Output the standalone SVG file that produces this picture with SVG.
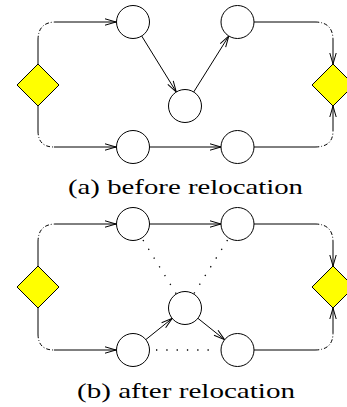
<svg xmlns="http://www.w3.org/2000/svg" width="347" height="407" viewBox="0 0 347 407">
<style>
.n{fill:#fff;stroke:#000;stroke-width:1}
.d{fill:#ffff00;stroke:#000;stroke-width:1}
.s{fill:none;stroke:#000;stroke-width:1}
.dd{fill:none;stroke:#000;stroke-width:1;stroke-dasharray:4 2 1 2}
.dt{fill:none;stroke:#000;stroke-width:1.3;stroke-dasharray:1.3 9}
.a{marker-end:url(#ar)}
text{font-family:"Liberation Serif","DejaVu Serif",serif;font-size:22px;fill:#000}
</style>
<defs>
<marker id="ar" markerUnits="userSpaceOnUse" markerWidth="14" markerHeight="10" viewBox="-12 -5 13 10" refX="0" refY="0" orient="auto">
<path d="M-11,-3.2 L0,0 L-11,3.2" fill="none" stroke="#000" stroke-width="1"/>
</marker>
</defs>
<g id="connectors">
<!-- (a) -->
<path class="s" d="M38,64 V40"/>
<path class="dd" d="M38,40 Q38,22 56,22"/>
<path class="s a" d="M56,22 H116"/>
<path class="s" d="M38,106 V131"/>
<path class="dd" d="M38,131 Q38,147 54,147"/>
<path class="s a" d="M54,147 H116"/>
<path class="s" d="M254,22 H315"/>
<path class="dd" d="M315,22 Q333,22 333,40"/>
<path class="s a" d="M333,40 V64"/>
<path class="s" d="M254,147 H315"/>
<path class="dd" d="M315,147 Q333,147 333,131"/>
<path class="s a" d="M333,131 V106"/>
<path class="s a" d="M141.7,36 L176.3,92"/>
<path class="s a" d="M193.7,92 L228.8,36"/>
<path class="s a" d="M149.5,147 L221,147"/>
<!-- (b) -->
<path class="s" d="M38,266 V242"/>
<path class="dd" d="M38,242 Q38,224 56,224"/>
<path class="s a" d="M56,224 H116"/>
<path class="s" d="M38,308 V334"/>
<path class="dd" d="M38,334 Q38,350 54,350"/>
<path class="s a" d="M54,350 H116"/>
<path class="s" d="M254,224 H315"/>
<path class="dd" d="M315,224 Q333,224 333,242"/>
<path class="s a" d="M333,242 V266"/>
<path class="s" d="M254,350 H315"/>
<path class="dd" d="M315,350 Q333,350 333,333"/>
<path class="s a" d="M333,333 V308"/>
<path class="s a" d="M149.5,224 L221,224"/>
<path class="dt" d="M143,240 L176.3,294"/>
<path class="dt" d="M227.5,240 L193.7,294"/>
<path class="dt" d="M156,350 L216,350"/>
<path class="s a" d="M145.8,339.6 L172.2,318.4"/>
<path class="s a" d="M197.9,318.3 L224.6,339.7"/>
</g>
<g id="a-start"><polygon class="d" points="38,64 59,85 38,106 17,85"/></g>
<g id="a-end"><polygon class="d" points="333,64 354,85 333,106 312,85"/></g>
<g id="a-n1"><circle class="n" cx="133" cy="22" r="16.5"/></g>
<g id="a-n2"><circle class="n" cx="237.5" cy="22" r="16.5"/></g>
<g id="a-n3"><circle class="n" cx="185" cy="106" r="16.5"/></g>
<g id="a-n4"><circle class="n" cx="133" cy="147" r="16.5"/></g>
<g id="a-n5"><circle class="n" cx="237.5" cy="147" r="16.5"/></g>
<g id="b-start"><polygon class="d" points="38,266 59,287 38,308 17,287"/></g>
<g id="b-end"><polygon class="d" points="333,266 354,287 333,308 312,287"/></g>
<g id="b-n1"><circle class="n" cx="133" cy="224" r="16.5"/></g>
<g id="b-n2"><circle class="n" cx="237.5" cy="224" r="16.5"/></g>
<g id="b-n3"><circle class="n" cx="185" cy="308" r="16.5"/></g>
<g id="b-n4"><circle class="n" cx="133" cy="350" r="16.5"/></g>
<g id="b-n5"><circle class="n" cx="237.5" cy="350" r="16.5"/></g>
<text x="68" y="194" textLength="235" lengthAdjust="spacingAndGlyphs">(a) before relocation</text>
<text x="77" y="398" textLength="218" lengthAdjust="spacingAndGlyphs">(b) after relocation</text>
</svg>
